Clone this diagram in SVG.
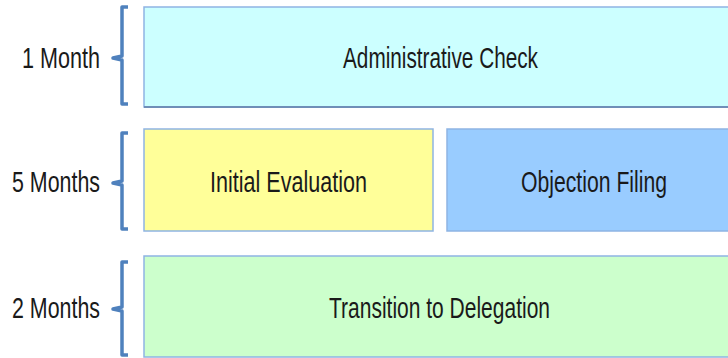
<svg xmlns="http://www.w3.org/2000/svg" width="728" height="358" viewBox="0 0 728 358">
<style>
.box{stroke:#8eb4e3;stroke-width:1.5}
.shadow{fill:none;stroke:#6f8fb8;stroke-width:2}
.brace{fill:none;stroke:#4f81bd;stroke-width:3.5;stroke-linejoin:round}
text{font-family:"Liberation Sans",Arial,sans-serif;font-size:29px;fill:#1a1a1a}
.c{text-anchor:middle}
.r{text-anchor:end}
</style>
<rect width="728" height="358" fill="#ffffff"/>
<g id="connectors">
<path class="brace" d="M128,7 H122 V56 L113,58 L122,60 V104 H128"/>
<path class="brace" d="M128,133 H122 V181 L113,183 L122,185 V229 H128"/>
<path class="brace" d="M128,262 H122 V307 L113,309 L122,311 V355 H128"/>
</g>
<g id="label1"><text class="r" x="100" y="68" textLength="78" lengthAdjust="spacingAndGlyphs">1 Month</text></g>
<g id="label5"><text class="r" x="100" y="192" textLength="88" lengthAdjust="spacingAndGlyphs">5 Months</text></g>
<g id="label2"><text class="r" x="100" y="318" textLength="88" lengthAdjust="spacingAndGlyphs">2 Months</text></g>
<g id="admin">
<rect class="box" x="144" y="7" width="600" height="100" fill="#ccffff"/>
<line class="shadow" x1="144" y1="107" x2="728" y2="107"/>
<text class="c" x="440.5" y="68" textLength="195" lengthAdjust="spacingAndGlyphs">Administrative Check</text>
</g>
<g id="initial">
<rect class="box" x="144" y="129" width="289" height="102" fill="#ffff99"/>
<text class="c" x="288.5" y="192" textLength="157" lengthAdjust="spacingAndGlyphs">Initial Evaluation</text>
</g>
<g id="objection">
<rect class="box" x="447" y="129" width="300" height="102" fill="#99ccff"/>
<text class="c" x="594" y="192" textLength="146" lengthAdjust="spacingAndGlyphs">Objection Filing</text>
</g>
<g id="transition">
<rect class="box" x="144" y="256" width="600" height="101" fill="#ccffcc"/>
<text class="c" x="439.5" y="318" textLength="221" lengthAdjust="spacingAndGlyphs">Transition to Delegation</text>
</g>
</svg>
